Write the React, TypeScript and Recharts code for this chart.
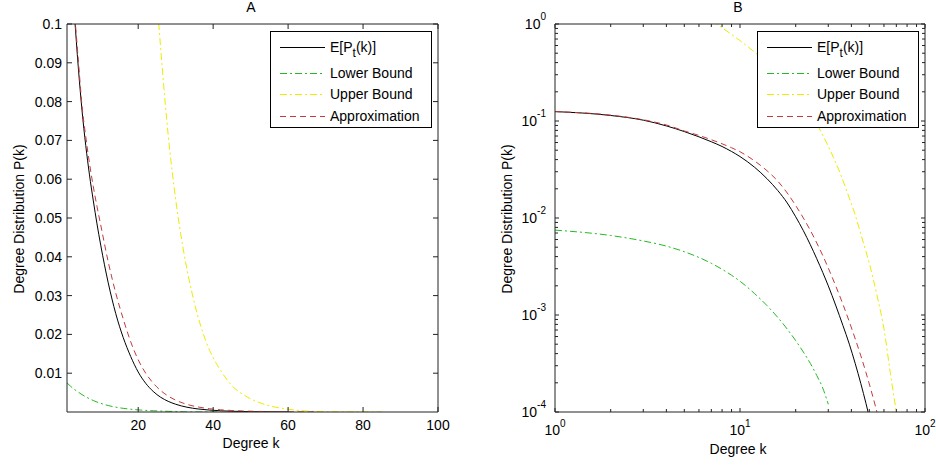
import React from "react";
import { LineChart, Line, XAxis, YAxis } from "recharts";

const FONT = "'Liberation Sans', Arial, Helvetica, sans-serif";

// degree k and P(k) for each curve
const K_E = [1, 2, 3, 4, 5, 6, 7, 8, 9, 10, 12, 14, 16, 18, 20, 22, 24, 26, 28, 30, 33, 36, 39, 42, 45, 48, 51, 55, 60];
const P_E = [
  0.125, 0.114, 0.102, 0.089, 0.0778, 0.0687, 0.0611, 0.0546, 0.0485, 0.043, 0.0333, 0.0254, 0.0192, 0.0143, 0.0103,
  0.0074, 0.0053, 0.0038, 0.00275, 0.002, 0.00124, 0.00078, 0.0005, 0.000314, 0.000196, 0.000122, 0.000075, 0.000039,
  0.000018,
];

const K_LOWER = [1, 2, 3, 4, 5, 6, 7, 8, 9, 10, 12, 14, 16, 18, 20, 22, 24, 26, 28, 30, 33, 36, 39, 42];
const P_LOWER = [
  0.0075, 0.0066, 0.0058, 0.00513, 0.00449, 0.00392, 0.00341, 0.00296, 0.00257, 0.00223, 0.00166, 0.00125, 0.000944,
  0.000716, 0.000544, 0.000415, 0.000317, 0.000238, 0.000177, 0.00012, 0, 0, 0, 0,
];

const K_UPPER = [6, 7, 8, 10, 12, 15, 18, 20, 22, 25, 28, 30, 32, 35, 38, 40, 42, 45, 48, 50, 55, 60, 65, 70, 75, 80, 85];
const P_UPPER = [
  1.31, 1.09, 0.915, 0.674, 0.512, 0.339, 0.232, 0.183, 0.145, 0.106, 0.0714, 0.0548, 0.0421, 0.0281, 0.0184, 0.014,
  0.0107, 0.0068, 0.0045, 0.0034, 0.0016, 0.00072, 0.00025, 0.0001, 0.000044, 0.000019, 0.000008,
];

const K_APPROX = [1, 2, 3, 4, 5, 6, 7, 8, 9, 10, 12, 14, 16, 18, 20, 22, 24, 26, 28, 30, 33, 36, 39, 42, 45, 48, 51, 54, 57, 60, 64, 68];
const P_APPROX = [
  0.125, 0.115, 0.103, 0.091, 0.079, 0.071, 0.0641, 0.0582, 0.053, 0.0482, 0.0387, 0.0307, 0.024, 0.0181, 0.01345,
  0.01, 0.00745, 0.00553, 0.00411, 0.00305, 0.00197, 0.00129, 0.00085, 0.000565, 0.000379, 0.000254, 0.00017,
  0.000114, 0.0000762, 0.000051, 0.00003, 0.0000179,
];

const A_X_TICKS = [20, 40, 60, 80, 100];
const A_Y_TICKS = [0.01, 0.02, 0.03, 0.04, 0.05, 0.06, 0.07, 0.08, 0.09, 0.1];
const B_X_TICKS = [1, 2, 3, 4, 5, 6, 7, 8, 9, 10, 20, 30, 40, 50, 60, 70, 80, 90, 100];
const B_Y_TICKS = [
  0.0001, 0.0002, 0.0003, 0.0004, 0.0005, 0.0006, 0.0007, 0.0008, 0.0009,
  0.001, 0.002, 0.003, 0.004, 0.005, 0.006, 0.007, 0.008, 0.009,
  0.01, 0.02, 0.03, 0.04, 0.05, 0.06, 0.07, 0.08, 0.09,
  0.1, 0.2, 0.3, 0.4, 0.5, 0.6, 0.7, 0.8, 0.9, 1,
];

const SERIES = [
  { name: "E", ks: K_E, ps: P_E, color: "#000000", dash: undefined as string | undefined },
  { name: "Lower Bound", ks: K_LOWER, ps: P_LOWER, color: "#22bb22", dash: "7 3 2 3" },
  { name: "Upper Bound", ks: K_UPPER, ps: P_UPPER, color: "#ecec00", dash: "7 3 2 3" },
  { name: "Approximation", ks: K_APPROX, ps: P_APPROX, color: "#c43a3a", dash: "6 4" },
];

const AXIS = "#222";
const PLOT_TOP = 24; // top edge of both plot boxes, in chart pixels

function points(ks: number[], ps: number[], log: boolean) {
  return ks.map((k, i) => ({ k, p: ps[i] })).filter((d) => !log || d.p > 0);
}

function decade(v: number) {
  const e = Math.round(Math.log10(v));
  return Math.abs(v / Math.pow(10, e) - 1) < 1e-6 ? e : null;
}

// draws the inward tick mark itself (matlab style) plus the label;
// the bottom axis also mirrors its ticks onto the top edge of the box
function AxisTick(props: any) {
  const { x, y, payload, side, gap, kind } = props;
  const v = payload.value as number;
  const isLog = kind === "powX" || kind === "powY" || kind === "log";
  const len = isLog ? (decade(v) !== null ? 4 : 3) : 5;
  let d: string;
  if (side === "bottom") d = `M${x},${y - gap}V${y - gap - len}M${x},${PLOT_TOP}V${PLOT_TOP + len}`;
  else if (side === "left") d = `M${x + gap},${y}H${x + gap + len}`;
  else d = `M${x - gap},${y}H${x - gap - len}`;

  const txt = { fontSize: 14, fontFamily: FONT, fill: "#000" };
  let label: React.ReactNode = null;
  if (kind === "linX") {
    label = <text x={x} y={y + 10} textAnchor="middle" {...txt}>{v}</text>;
  } else if (kind === "linY") {
    label = <text x={x} y={y + 5} textAnchor="end" {...txt}>{String(Number(v.toFixed(2)))}</text>;
  } else if (kind === "powX" && decade(v) !== null) {
    label = (
      <text x={x} y={y} textAnchor="middle" {...txt}>
        <tspan dy={15}>10</tspan>
        <tspan dy={-8} fontSize={10}>{decade(v)}</tspan>
      </text>
    );
  } else if (kind === "powY" && decade(v) !== null) {
    label = (
      <text x={x} y={y} textAnchor="end" {...txt}>
        <tspan dy={5}>10</tspan>
        <tspan dy={-9} fontSize={10}>{decade(v)}</tspan>
      </text>
    );
  }
  return (
    <g>
      <path d={d} style={{ stroke: AXIS, strokeWidth: 1, fill: "none" }} />
      {label}
    </g>
  );
}

function seriesLines(log: boolean) {
  return SERIES.map((s) => (
    <Line
      key={s.name}
      data={points(s.ks, s.ps, log)}
      dataKey="p"
      type="monotone"
      stroke={s.color}
      strokeWidth={1}
      strokeDasharray={s.dash}
      dot={false}
      activeDot={false}
      isAnimationActive={false}
    />
  ));
}

function PanelA() {
  return (
    <LineChart width={470} height={465} margin={{ top: PLOT_TOP - 1, right: 31, bottom: 23, left: 27 }}>
      <XAxis dataKey="k" type="number" domain={[1, 100]} allowDataOverflow ticks={A_X_TICKS} interval={0}
        tickLine={false} tickSize={0} tickMargin={8} stroke={AXIS} height={30}
        tick={<AxisTick side="bottom" gap={8} kind="linX" />} />
      <XAxis xAxisId="top" dataKey="k" orientation="top" type="number" domain={[1, 100]} allowDataOverflow
        ticks={A_X_TICKS} interval={0} tickLine={false} tick={false} stroke={AXIS} height={1} />
      <YAxis type="number" domain={[0, 0.1]} allowDataOverflow ticks={A_Y_TICKS} interval={0}
        tickLine={false} tickSize={0} tickMargin={5} stroke={AXIS} width={40}
        tick={<AxisTick side="left" gap={5} kind="linY" />} />
      <YAxis yAxisId="right" orientation="right" type="number" domain={[0, 0.1]} allowDataOverflow ticks={A_Y_TICKS}
        interval={0} tickLine={false} tickSize={0} tickMargin={0} stroke={AXIS} width={1}
        tick={<AxisTick side="right" gap={0} kind="lin" />} />
      {seriesLines(false)}
    </LineChart>
  );
}

function PanelB() {
  return (
    <LineChart width={466} height={465} margin={{ top: PLOT_TOP - 1, right: 10, bottom: 23, left: 45 }}>
      <XAxis dataKey="k" type="number" scale="log" domain={[1, 100]} allowDataOverflow ticks={B_X_TICKS} interval={0}
        tickLine={false} tickSize={0} tickMargin={8} stroke={AXIS} height={30}
        tick={<AxisTick side="bottom" gap={8} kind="powX" />} />
      <XAxis xAxisId="top" dataKey="k" orientation="top" type="number" scale="log" domain={[1, 100]} allowDataOverflow
        ticks={B_X_TICKS} interval={0} tickLine={false} tick={false} stroke={AXIS} height={1} />
      <YAxis type="number" scale="log" domain={[0.0001, 1]} allowDataOverflow ticks={B_Y_TICKS} interval={0}
        tickLine={false} tickSize={0} tickMargin={9} stroke={AXIS} width={40}
        tick={<AxisTick side="left" gap={9} kind="powY" />} />
      <YAxis yAxisId="right" orientation="right" type="number" scale="log" domain={[0.0001, 1]} allowDataOverflow
        ticks={B_Y_TICKS} interval={0} tickLine={false} tickSize={0} tickMargin={0} stroke={AXIS} width={1}
        tick={<AxisTick side="right" gap={0} kind="log" />} />
      {seriesLines(true)}
    </LineChart>
  );
}

function LegendBox({ x }: { x: number }) {
  const rows = [47, 73, 94, 116];
  const txt = { fontSize: 14, fontFamily: FONT, fill: "#000" };
  return (
    <g>
      <rect x={x + 0.5} y={31.5} width={161} height={96} fill="#fff" stroke="#000" />
      {SERIES.map((s, i) => (
        <line key={s.name} x1={x + 10} x2={x + 55} y1={rows[i] + 0.5} y2={rows[i] + 0.5}
          stroke={s.color} strokeDasharray={s.dash} />
      ))}
      <text x={x + 60} y={rows[0] + 5} {...txt}>
        E[P<tspan dy={5} fontSize={12}>t</tspan><tspan dy={-5}>(k)]</tspan>
      </text>
      <text x={x + 60} y={rows[1] + 5} {...txt}>Lower Bound</text>
      <text x={x + 60} y={rows[2] + 5} {...txt}>Upper Bound</text>
      <text x={x + 60} y={rows[3] + 5} {...txt}>Approximation</text>
    </g>
  );
}

export default function App() {
  const txt = { fontSize: 14, fontFamily: FONT, fill: "#000" };
  return (
    <div style={{ position: "absolute", left: 0, top: 0, width: 936, height: 465, background: "#fff" }}>
      <div style={{ position: "absolute", left: 0, top: 0 }}>
        <PanelA />
      </div>
      <div style={{ position: "absolute", left: 470, top: 0 }}>
        <PanelB />
      </div>
      <svg width={936} height={465} style={{ position: "absolute", left: 0, top: 0, pointerEvents: "none" }}>
        <text x={251} y={12} textAnchor="middle" {...txt}>A</text>
        <text x={738} y={12} textAnchor="middle" {...txt}>B</text>
        <text x={251} y={448} textAnchor="middle" {...txt}>Degree k</text>
        <text x={738} y={454} textAnchor="middle" {...txt}>Degree k</text>
        <text x={24} y={219} textAnchor="middle" transform="rotate(-90 24 219)" {...txt}>Degree Distribution P(k)</text>
        <text x={512} y={219} textAnchor="middle" transform="rotate(-90 512 219)" {...txt}>Degree Distribution P(k)</text>
        <LegendBox x={270} />
        <LegendBox x={757} />
      </svg>
    </div>
  );
}
